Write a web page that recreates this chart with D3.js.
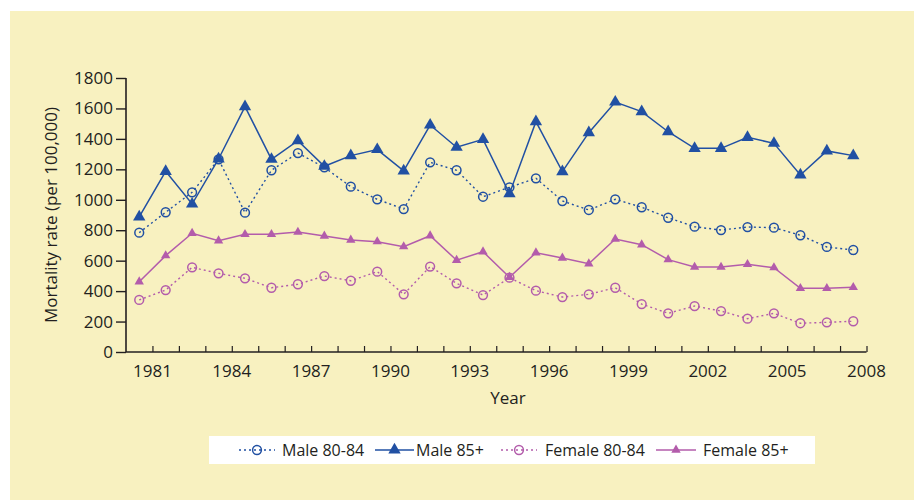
<!DOCTYPE html>
<html>
<head>
<meta charset="utf-8">
<script src="https://cdn.jsdelivr.net/npm/d3@7"></script>
<style>
  body { margin: 0; background: #fff; }
  text { font-family: "Open Sans", "Noto Sans", sans-serif; fill: #231f20; }
</style>
</head>
<body>
<svg id="chart" width="914" height="500"></svg>
<script>
// data years (plotted in the middle of each year band)
const years = d3.range(1980, 2008);
const male8084 = [784, 918, 1049, 1266, 915, 1194, 1307, 1213, 1086, 1003, 939, 1246, 1194, 1020, 1082, 1141, 992, 933, 1003, 951, 882, 823, 801, 821, 817, 767, 690, 670];
const male85 = [887, 1187, 972, 1268, 1612, 1266, 1388, 1220, 1290, 1330, 1190, 1491, 1345, 1397, 1040, 1513, 1185, 1441, 1642, 1579, 1447, 1338, 1338, 1410, 1371, 1163, 1321, 1290];
const female8084 = [342, 407, 556, 517, 484, 422, 445, 499, 468, 528, 379, 561, 451, 374, 488, 403, 361, 379, 422, 315, 254, 302, 269, 219, 254, 189, 195, 202];
const female85 = [462, 633, 780, 731, 773, 773, 788, 762, 736, 725, 692, 764, 603, 659, 491, 652, 618, 580, 742, 705, 607, 558, 558, 576, 554, 418, 418, 425];
const yTicks = [0, 200, 400, 600, 800, 1000, 1200, 1400, 1600, 1800];
const xLabels = [1981, 1984, 1987, 1990, 1993, 1996, 1999, 2002, 2005, 2008];

const BLUE = "#2150a3";
const PINK = "#b35cab";

const series = [
  {name: "Male 80-84", values: male8084, color: BLUE, marker: "circle", dash: "2,3"},
  {name: "Male 85+", values: male85, color: BLUE, marker: "triangle", size: 66, dash: null},
  {name: "Female 80-84", values: female8084, color: PINK, marker: "circle", dash: "2,3"},
  {name: "Female 85+", values: female85, color: PINK, marker: "triangle", size: 38, dash: null}
];

const svg = d3.select("#chart");

// pale yellow panel
svg.append("rect")
  .attr("x", 10).attr("y", 11)
  .attr("width", 904).attr("height", 489)
  .attr("fill", "#f8f1c0");

const x = d3.scaleLinear().domain([1980, 2008]).range([126, 866.5]);
const y = d3.scaleLinear().domain([0, 1800]).range([352, 78]);

// y axis
const yAxis = svg.append("g")
  .attr("transform", "translate(126,0)")
  .call(d3.axisLeft(y).tickValues(yTicks).tickSize(10).tickPadding(3).tickFormat(d3.format("d")));
yAxis.select(".domain").attr("stroke", "#231f20").attr("stroke-width", 1.6)
  .attr("d", "M0," + y(1800) + "V" + y(0));
yAxis.selectAll(".tick line").attr("stroke", "#231f20").attr("stroke-width", 1.4);
yAxis.selectAll(".tick text").style("font-size", "17px").attr("fill", "#231f20");

// x axis: ticks every year pointing up, labels every 3 years
const xAxis = svg.append("g")
  .attr("transform", "translate(0,352)")
  .call(d3.axisBottom(x).tickValues(d3.range(1981, 2009)).tickSize(-6).tickFormat(""));
xAxis.select(".domain").attr("stroke", "#231f20").attr("stroke-width", 1.6)
  .attr("d", "M" + x(1980) + ",0H" + x(2008));
xAxis.selectAll(".tick line").attr("stroke", "#231f20").attr("stroke-width", 1.2);

svg.append("g").selectAll("text")
  .data(xLabels)
  .join("text")
  .attr("x", d => x(d))
  .attr("y", 377)
  .attr("text-anchor", "middle")
  .style("font-size", "17px")
  .text(d => d);

// axis titles
svg.append("text")
  .attr("x", 508).attr("y", 404)
  .attr("text-anchor", "middle")
  .style("font-size", "17px")
  .text("Year");

svg.append("text")
  .attr("transform", "translate(57,215) rotate(-90)")
  .attr("text-anchor", "middle")
  .style("font-size", "17px")
  .text("Mortality rate (per 100,000)");

// lines + markers
const line = d3.line()
  .x((d, i) => x(years[i] + 0.5))
  .y(d => y(d));

function drawMarker(g, s, cx, cy) {
  if (s.marker === "circle") {
    g.append("circle")
      .attr("cx", cx).attr("cy", cy).attr("r", 4.4)
      .attr("fill", "none")
      .attr("stroke", s.color).attr("stroke-width", 1.5);
  } else {
    g.append("path")
      .attr("transform", "translate(" + cx + "," + cy + ")")
      .attr("d", d3.symbol(d3.symbolTriangle, s.size)())
      .attr("fill", s.color);
  }
}

series.forEach(s => {
  const g = svg.append("g");
  g.append("path")
    .attr("d", line(s.values))
    .attr("fill", "none")
    .attr("stroke", s.color)
    .attr("stroke-width", s.dash ? 1.4 : 1.5)
    .attr("stroke-dasharray", s.dash);
  s.values.forEach((v, i) => drawMarker(g, s, x(years[i] + 0.5), y(v)));
});

// legend
const legend = svg.append("g");
legend.append("rect")
  .attr("x", 209).attr("y", 436)
  .attr("width", 606).attr("height", 28)
  .attr("fill", "#fff");

const legendPos = [
  {x0: 239, x1: 275, tx: 282},
  {x0: 375, x1: 414, tx: 416},
  {x0: 501, x1: 537, tx: 545},
  {x0: 656, x1: 696, tx: 703}
];

series.forEach((s, i) => {
  const p = legendPos[i];
  const cy = 450;
  const g = legend.append("g");
  g.append("line")
    .attr("x1", p.x0).attr("x2", p.x1)
    .attr("y1", cy).attr("y2", cy)
    .attr("stroke", s.color)
    .attr("stroke-width", 1.4)
    .attr("stroke-dasharray", s.dash);
  drawMarker(g, s, (p.x0 + p.x1) / 2, cy);
  g.append("text")
    .attr("x", p.tx).attr("y", cy + 6)
    .style("font-size", "16px")
    .text(s.name);
});
</script>
</body>
</html>
